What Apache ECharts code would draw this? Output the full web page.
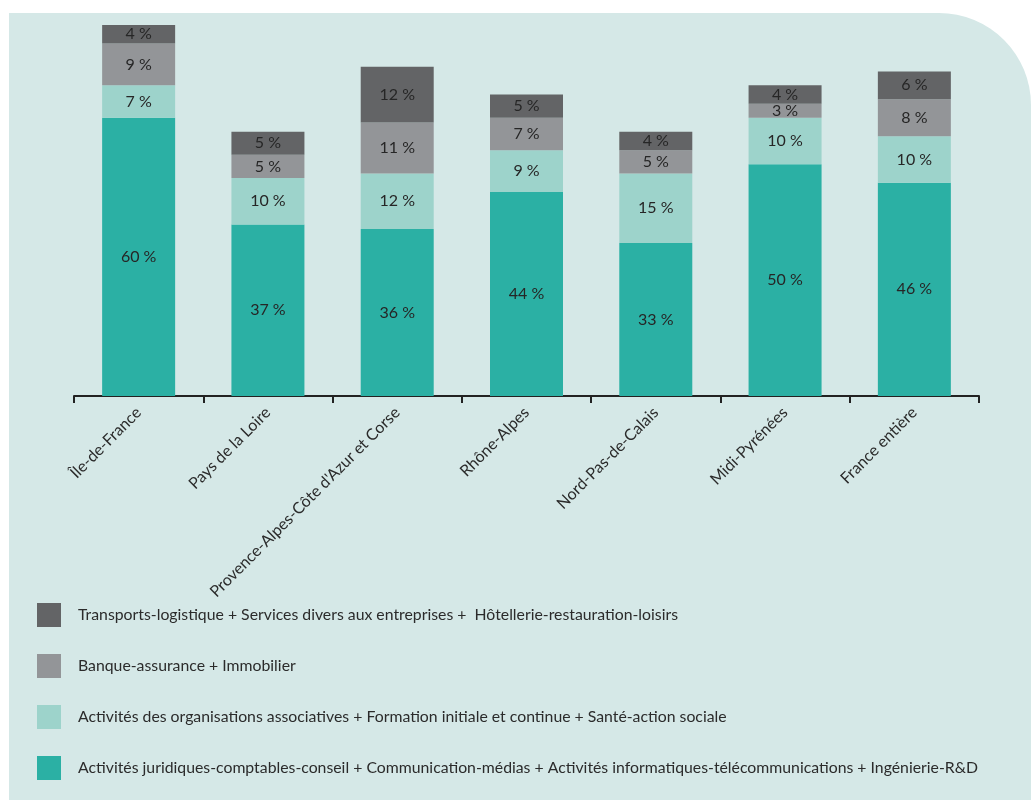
<!DOCTYPE html>
<html>
<head>
<meta charset="utf-8">
<script src="https://cdn.jsdelivr.net/npm/echarts@6/dist/echarts.min.js"></script>
<style>
  html, body { margin:0; padding:0; background:#ffffff; }
  #panel { position:absolute; left:9px; top:13px; width:1022px; height:787px; background:#d5e8e7; border-top-right-radius:92px; }
  #chart { position:absolute; left:0; top:0; width:1031px; height:800px; }
</style>
</head>
<body>
<div id="panel"></div>
<div id="chart"></div>
<script>
const categories = ["Île-de-France", "Pays de la Loire", "Provence-Alpes-Côte d'Azur et Corse", "Rhône-Alpes", "Nord-Pas-de-Calais", "Midi-Pyrénées", "France entière"];
const seriesNames = [
  "Activités juridiques-comptables-conseil + Communication-médias + Activités informatiques-télécommunications + Ingénierie-R&D",
  "Activités des organisations associatives + Formation initiale et continue + Santé-action sociale",
  "Banque-assurance + Immobilier",
  "Transports-logistique + Services divers aux entreprises +  Hôtellerie-restauration-loisirs"
];
const juridiques = [60, 37, 36, 44, 33, 50, 46];
const associatives = [7, 10, 12, 9, 15, 10, 10];
const banque = [9, 5, 11, 7, 5, 3, 8];
const transports = [4, 5, 12, 5, 4, 4, 6];
const colors = ["#2bb0a4", "#9dd3cb", "#939598", "#636466"];

const chart = echarts.init(document.getElementById('chart'), null, {renderer: 'canvas'});
const font = 'Lato, "Open Sans", sans-serif';
const dataSets = [juridiques, associatives, banque, transports];
const series = dataSets.map((d, i) => ({
  name: seriesNames[i],
  type: 'bar',
  stack: 'total',
  barWidth: 73,
  data: d,
  itemStyle: { color: colors[i] },
  label: {
    show: true,
    position: 'inside',
    formatter: '{c} %',
    fontSize: 16,
    fontFamily: font,
    color: '#262626'
  }
}));

chart.setOption({
  backgroundColor: 'transparent',
  animation: false,
  textStyle: { fontFamily: font },
  grid: { left: 74, right: 52, top: 25, bottom: 404, containLabel: false },
  xAxis: {
    type: 'category',
    data: categories,
    axisLine: { show: true, lineStyle: { color: '#222', width: 2 } },
    axisTick: { show: true, length: 7, lineStyle: { color: '#222', width: 2 } },
    axisLabel: { rotate: 45, fontSize: 16, color: '#2b2b2b', fontFamily: font, margin: 14, interval: 0 }
  },
  yAxis: {
    type: 'value', min: 0, max: 80, show: false,
    splitLine: { show: false }
  },
  legend: {
    orient: 'vertical',
    left: 37,
    top: 603,
    padding: 0,
    itemWidth: 24,
    itemHeight: 24,
    itemGap: 27,
    icon: 'rect',
    data: [seriesNames[3], seriesNames[2], seriesNames[1], seriesNames[0]],
    textStyle: { fontSize: 15.8, color: '#2b2b2b', fontFamily: font, padding: [0, 0, 0, 12] }
  },
  series: series
});
</script>
</body>
</html>
